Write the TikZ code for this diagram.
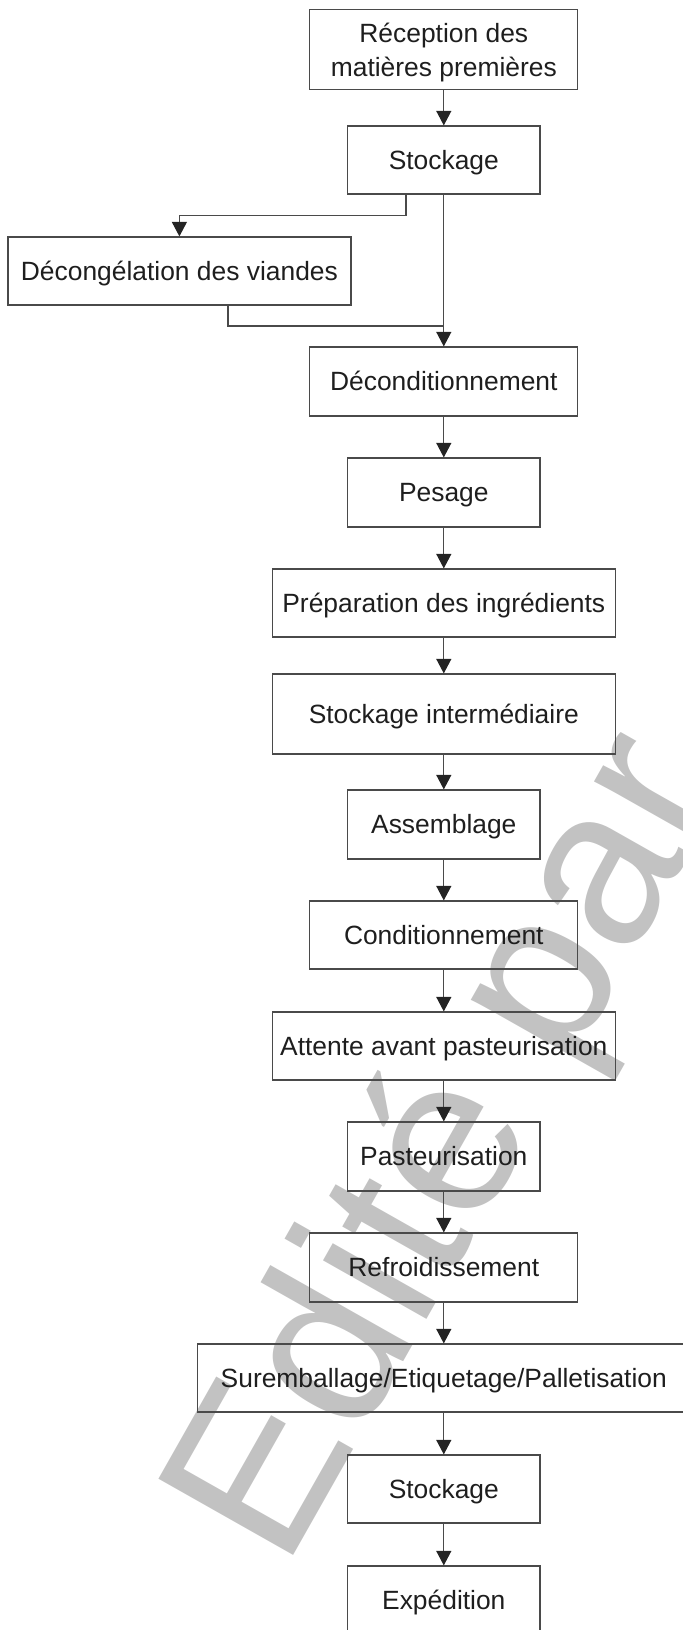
\documentclass[tikz,border=0pt]{standalone}
\usepackage{fontspec}
\setmainfont{Liberation Sans}
\usetikzlibrary{arrows.meta}
\definecolor{ink}{HTML}{1E1E1E}
\definecolor{edge}{HTML}{4A4A4A}
\definecolor{tipc}{HTML}{242424}
\definecolor{wm}{HTML}{C2C2C2}
\begin{document}
\begin{tikzpicture}[x=0.5pt,y=-0.5pt,
  stepbox/.style={draw=edge, line width=0.6pt, rectangle, inner sep=0pt,
    text=ink, font=\fontsize{13.2}{17}\selectfont,
    text height=9.45pt, text depth=0pt, align=center, minimum height=34pt},
  narrowbox/.style={stepbox, minimum width=96.25pt},
  midbox/.style={stepbox, minimum width=134pt},
  widebox/.style={stepbox, minimum width=171.5pt},
  conn/.style={draw=edge, line width=0.6pt},
  arr/.style={conn, -{Triangle[length=7.25pt,width=7.5pt,color=tipc]}},
  wmtext/.style={text=wm, inner sep=0pt, font=\fontsize{112.5}{112.5}\selectfont}
]
\path[use as bounding box] (0,0) rectangle (683,1630);
\clip (0,0) rectangle (683,1630);

% publisher mark behind the chart
\node[wmtext, rotate=60.5, anchor=base west] (wmark) at (284,1572) {Edité par};

% process steps
\node[midbox, minimum height=40pt, text height=27pt] (recep) at (443.8,49.3) {Réception des\\matières premières};
\node[narrowbox] (stock1) at (443.8,160) {Stockage};
\node[widebox] (decong) at (179.4,271) {Décongélation des viandes};
\node[midbox, minimum height=34.5pt] (decond) at (443.8,381.5) {Déconditionnement};
\node[narrowbox, minimum height=34.5pt] (pesage) at (443.8,492.5) {Pesage};
\node[widebox] (prep) at (443.8,603) {Préparation des ingrédients};
\node[widebox, minimum height=40pt] (stockint) at (443.8,714) {Stockage intermédiaire};
\node[narrowbox, minimum height=34.5pt] (assemb) at (443.8,824.5) {Assemblage};
\node[midbox] (condit) at (443.8,935) {Conditionnement};
\node[widebox] (attente) at (443.8,1046) {Attente avant pasteurisation};
\node[narrowbox, minimum height=34.5pt] (pasteur) at (443.8,1156.5) {Pasteurisation};
\node[midbox, minimum height=34.5pt] (refroid) at (443.8,1267.5) {Refroidissement};
\node[stepbox, minimum width=246.5pt] (surem) at (443.8,1378) {Suremballage/Etiquetage/Palletisation};
\node[narrowbox] (stock2) at (443.8,1489) {Stockage};
\node[narrowbox] (exped) at (443.8,1600) {Expédition};

% branch through thawing
\coordinate (merge) at (443.8,326);
\draw[arr] (recep.south) -- (stock1.north);
\draw[arr] ([xshift=-18.9pt]stock1.south) -- ++(0,21) -| (decong.north);
\draw[conn] ([xshift=24.3pt]decong.south) |- (merge);
\draw[arr] (stock1.south) -- (decond.north);

% main line
\draw[arr] (decond.south) -- (pesage.north);
\draw[arr] (pesage.south) -- (prep.north);
\draw[arr] (prep.south) -- (stockint.north);
\draw[arr] (stockint.south) -- (assemb.north);
\draw[arr] (assemb.south) -- (condit.north);
\draw[arr] (condit.south) -- (attente.north);
\draw[arr] (attente.south) -- (pasteur.north);
\draw[arr] (pasteur.south) -- (refroid.north);
\draw[arr] (refroid.south) -- (surem.north);
\draw[arr] (surem.south) -- (stock2.north);
\draw[arr] (stock2.south) -- (exped.north);
\end{tikzpicture}
\end{document}
